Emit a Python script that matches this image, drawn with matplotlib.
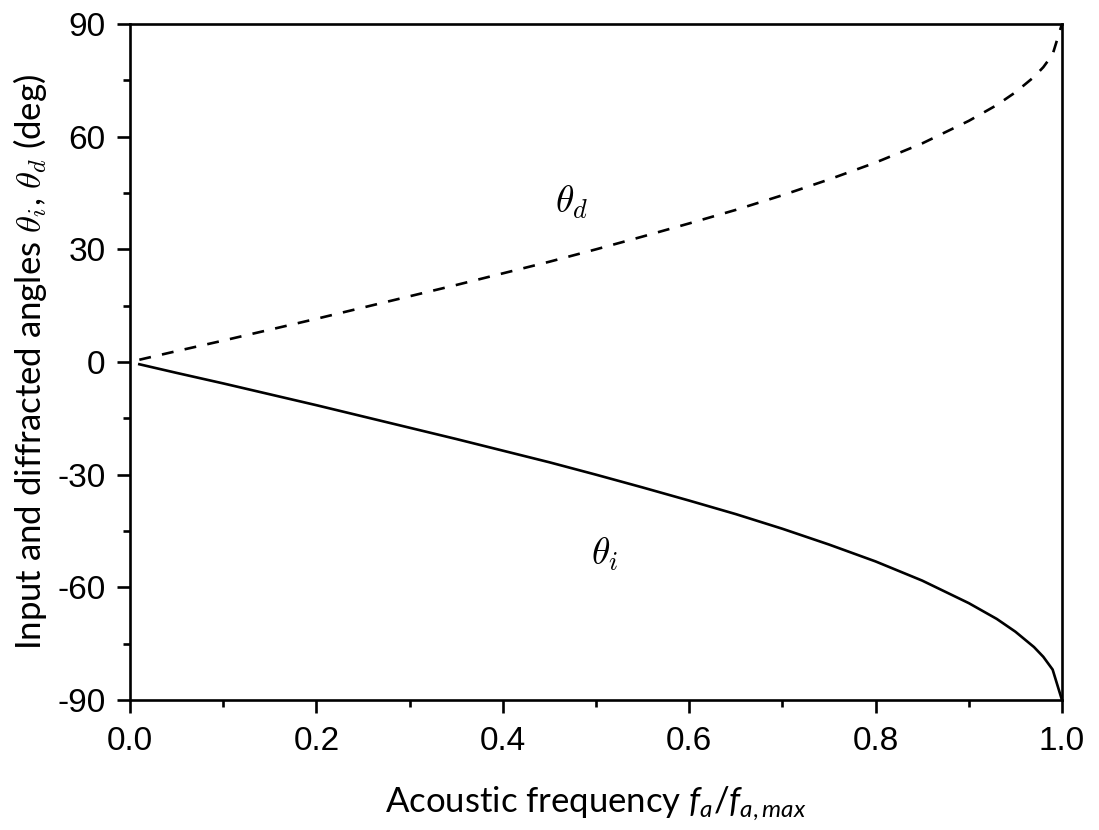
import matplotlib
matplotlib.use("Agg")
import matplotlib.pyplot as plt
from matplotlib.ticker import MultipleLocator

# normalised acoustic frequency f_a / f_a,max
freq = [0.01, 0.05, 0.10, 0.15, 0.20, 0.25, 0.30, 0.35, 0.40, 0.45, 0.50,
        0.55, 0.60, 0.65, 0.70, 0.75, 0.80, 0.85, 0.90, 0.93, 0.95, 0.97,
        0.98, 0.99, 1.00]
# diffracted angle theta_d (deg)
theta_d = [0.6, 2.9, 5.7, 8.6, 11.5, 14.5, 17.5, 20.5, 23.6, 26.7, 30.0,
           33.4, 36.9, 40.5, 44.4, 48.6, 53.1, 58.2, 64.2, 68.4, 71.8, 75.9,
           78.5, 81.9, 90.0]
# input angle theta_i (deg)
theta_i = [-0.6, -2.9, -5.7, -8.6, -11.5, -14.5, -17.5, -20.5, -23.6, -26.7,
           -30.0, -33.4, -36.9, -40.5, -44.4, -48.6, -53.1, -58.2, -64.2,
           -68.4, -71.8, -75.9, -78.5, -81.9, -90.0]

plt.rcParams['font.family'] = ['Liberation Sans', 'DejaVu Sans']
plt.rcParams['axes.unicode_minus'] = False
plt.rcParams['mathtext.fontset'] = 'custom'
plt.rcParams['mathtext.it'] = 'Lato:italic'
plt.rcParams['mathtext.rm'] = 'Lato'

fig = plt.figure(figsize=(10.99, 8.30), dpi=100)
ax = fig.add_axes([0.1183, 0.1566, 0.848, 0.8145])

l1, = ax.plot(freq, theta_d, color='black', lw=1.9, ls='--')
l1.set_dashes((4.5, 4.3))
ax.plot(freq, theta_i, color='black', lw=1.9)

ax.set_xlim(0, 1)
ax.set_ylim(-90, 90)
ax.xaxis.set_major_locator(MultipleLocator(0.2))
ax.xaxis.set_minor_locator(MultipleLocator(0.1))
ax.yaxis.set_major_locator(MultipleLocator(30))
ax.yaxis.set_minor_locator(MultipleLocator(15))
ax.xaxis.set_major_formatter(plt.FormatStrFormatter('%.1f'))
ax.tick_params(which='major', direction='out', length=9.5, width=1.9,
               labelsize=24, pad=9)
ax.tick_params(which='minor', direction='out', length=5, width=1.9)
ax.tick_params(axis='y', which='major', pad=8)
for s in ax.spines.values():
    s.set_linewidth(1.9)

ax.set_xlabel(r'Acoustic frequency $f_a$/$f_{a,max}$', family='Lato',
              fontsize=25, labelpad=20)
ax.set_ylabel(r'Input and diffracted angles $\theta_i$, $\theta_d$ (deg)',
              family='Lato', fontsize=25, labelpad=6, math_fontfamily='cm')

ax.text(0.474, 42.6, r'$\theta_d$', fontsize=27, ha='center', va='center',
        math_fontfamily='cm')
ax.text(0.509, -51.1, r'$\theta_i$', fontsize=27, ha='center', va='center',
        math_fontfamily='cm')

fig.savefig('out.png', dpi=100)
